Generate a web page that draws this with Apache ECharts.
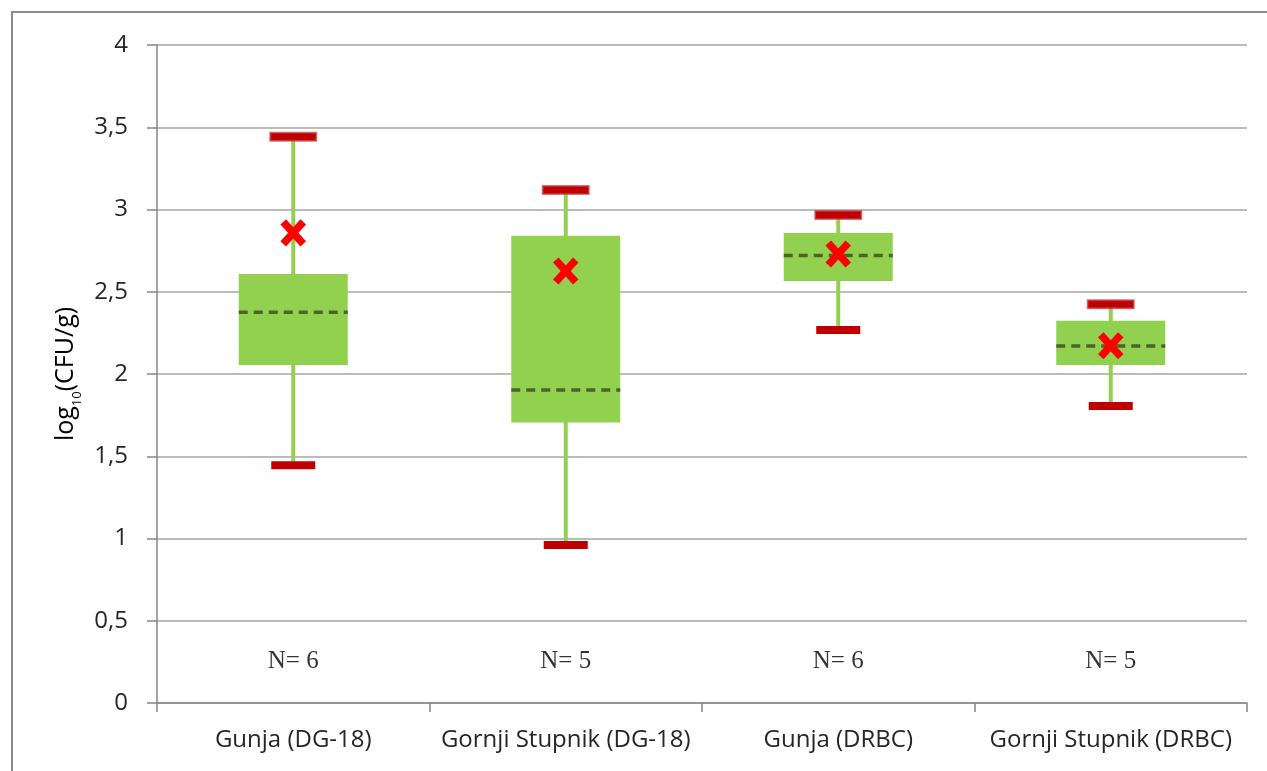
<!DOCTYPE html>
<html>
<head>
<meta charset="utf-8">
<script src="https://cdn.jsdelivr.net/npm/echarts@6/dist/echarts.min.js"></script>
<style>
html,body{margin:0;padding:0;background:#fff;}
#chart{width:1267px;height:771px;}
</style>
</head>
<body>
<div id="chart"></div>
<script>
const categories = ['Gunja (DG-18)', 'Gornji Stupnik (DG-18)', 'Gunja (DRBC)', 'Gornji Stupnik (DRBC)'];
const minVals = [1.445, 0.960, 2.267, 1.805];
const q1Vals = [2.055, 1.705, 2.565, 2.055];
const medianVals = [2.375, 1.903, 2.720, 2.170];
const q3Vals = [2.608, 2.840, 2.857, 2.324];
const maxVals = [3.443, 3.119, 2.967, 2.424];
const meanVals = [2.858, 2.626, 2.730, 2.172];
const nCounts = [6, 5, 6, 5];
const nLabelLevel = [0.25, 0.25, 0.25, 0.25];
const yTicks = [0, 0.5, 1, 1.5, 2, 2.5, 3, 3.5, 4];

const boxData = categories.map((c, i) => [i, minVals[i], q1Vals[i], medianVals[i], q3Vals[i], maxVals[i]]);
const meanData = categories.map((c, i) => [i, meanVals[i]]);
const nData = categories.map((c, i) => [i, nLabelLevel[i], nCounts[i]]);

const chart = echarts.init(document.getElementById('chart'));

function renderBox(params, api) {
  const idx = api.value(0);
  const pMin = api.coord([idx, api.value(1)]);
  const pQ1 = api.coord([idx, api.value(2)]);
  const pMed = api.coord([idx, api.value(3)]);
  const pQ3 = api.coord([idx, api.value(4)]);
  const pMax = api.coord([idx, api.value(5)]);
  const bandW = api.size([1, 0])[0];
  const boxW = bandW * 0.4;
  const capW = 46, capH = 8;
  const x = pMin[0];
  return {
    type: 'group',
    children: [
      { type: 'line', shape: { x1: x, y1: pMax[1], x2: x, y2: pMin[1] },
        style: { stroke: '#92D050', lineWidth: 4 } },
      { type: 'rect', shape: { x: x - boxW / 2, y: pQ3[1], width: boxW, height: pQ1[1] - pQ3[1] },
        style: { fill: '#92D050' } },
      { type: 'line', shape: { x1: x - boxW / 2, y1: pMed[1], x2: x + boxW / 2, y2: pMed[1] },
        style: { stroke: '#4F6228', lineWidth: 3.5, lineDash: [9, 6] } },
      { type: 'rect', shape: { x: x - capW / 2, y: pMax[1] - capH / 2, width: capW, height: capH },
        style: { fill: '#C00000', stroke: 'rgba(192,60,60,0.7)', lineWidth: 2 } },
      { type: 'rect', shape: { x: x - capW / 2 + 1, y: pMin[1] - capH / 2, width: capW - 2, height: capH },
        style: { fill: '#C00000' } }
    ]
  };
}

function renderMean(params, api) {
  const p = api.coord([api.value(0), api.value(1)]);
  const dx = 10, dy = 11;
  return {
    type: 'group',
    children: [
      { type: 'line', shape: { x1: p[0] - dx, y1: p[1] - dy, x2: p[0] + dx, y2: p[1] + dy },
        style: { stroke: '#FF0000', lineWidth: 7.5 } },
      { type: 'line', shape: { x1: p[0] + dx, y1: p[1] - dy, x2: p[0] - dx, y2: p[1] + dy },
        style: { stroke: '#FF0000', lineWidth: 7.5 } }
    ]
  };
}

chart.setOption({
  animation: false,
  backgroundColor: '#fff',
  graphic: [{
    type: 'rect', silent: true, z: -10,
    shape: { x: 12, y: 12, width: 1300, height: 800 },
    style: { fill: 'none', stroke: '#8C8C8C', lineWidth: 2 }
  }],
  grid: { left: 157, right: 20, top: 45, bottom: 68 },
  xAxis: {
    type: 'category',
    data: categories,
    boundaryGap: true,
    axisLine: { lineStyle: { color: '#868686', width: 1.5 } },
    axisTick: { show: true, interval: 0, length: 9, lineStyle: { color: '#868686', width: 1.5 } },
    axisLabel: { interval: 0, hideOverlap: false, color: '#262626', fontFamily: 'Open Sans', fontSize: 24, margin: 25 },
    splitLine: { show: false }
  },
  yAxis: {
    type: 'value',
    min: 0, max: 4, interval: 0.5,
    name: '{a|log}{b|10}{a|(CFU/g)}',
    nameLocation: 'middle',
    nameRotate: 90,
    nameGap: 75,
    nameTextStyle: {
      rich: {
        a: { fontFamily: 'Open Sans', fontSize: 25, color: '#000', fontWeight: 'normal' },
        b: { fontFamily: 'Open Sans', fontSize: 13, color: '#000', verticalAlign: 'bottom', padding: [0, 0, -5, 0] }
      }
    },
    axisLine: { show: true, lineStyle: { color: '#868686', width: 1.5 } },
    axisTick: { show: true, length: 10, lineStyle: { color: '#868686', width: 1.5 } },
    axisLabel: {
      color: '#262626', fontFamily: 'Open Sans', fontSize: 24, margin: 29,
      formatter: v => (yTicks.includes(v) ? String(v).replace('.', ',') : '')
    },
    splitLine: { show: true, lineStyle: { color: '#A6A6A6', width: 1.5 } }
  },
  series: [
    {
      type: 'custom',
      name: 'box',
      renderItem: renderBox,
      encode: { x: 0, y: [1, 2, 3, 4, 5] },
      data: boxData,
      z: 2
    },
    {
      type: 'custom',
      name: 'mean',
      renderItem: renderMean,
      encode: { x: 0, y: 1 },
      data: meanData,
      z: 4
    },
    {
      type: 'scatter',
      name: 'N',
      symbolSize: 0,
      data: nData,
      label: {
        show: true,
        position: 'inside',
        formatter: p => 'N= ' + p.value[2],
        fontFamily: 'Liberation Serif',
        fontSize: 25,
        color: '#000'
      },
      z: 3
    }
  ]
});
</script>
</body>
</html>
